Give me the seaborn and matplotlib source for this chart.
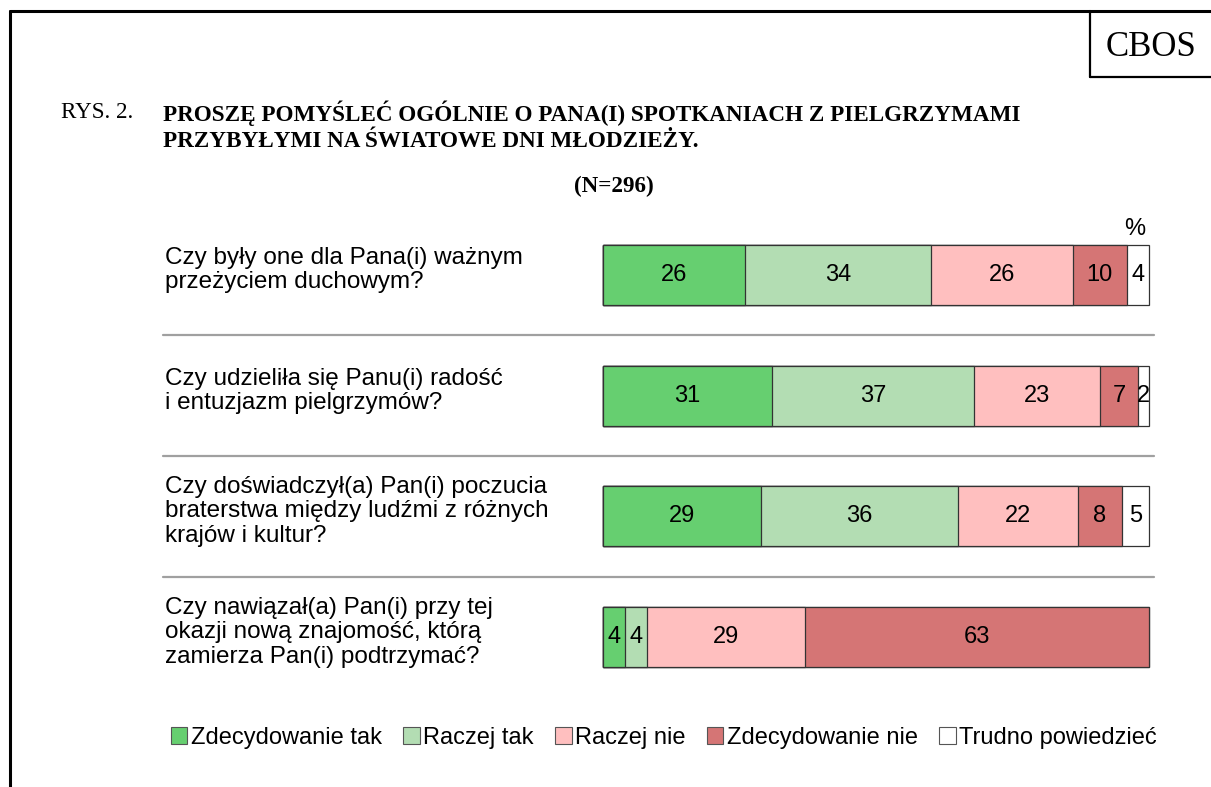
import numpy as np
import pandas as pd
import matplotlib
matplotlib.use("Agg")
import matplotlib.pyplot as plt
from matplotlib.patches import Patch
from matplotlib.lines import Line2D
import matplotlib.transforms as mtrans
import seaborn as sns

questions = [
    "Czy były one dla Pana(i) ważnym\nprzeżyciem duchowym?",
    "Czy udzieliła się Panu(i) radość\ni entuzjazm pielgrzymów?",
    "Czy doświadczył(a) Pan(i) poczucia\nbraterstwa między ludźmi z różnych\nkrajów i kultur?",
    "Czy nawiązał(a) Pan(i) przy tej\nokazji nową znajomość, którą\nzamierza Pan(i) podtrzymać?",
]
series_names = ["Zdecydowanie tak", "Raczej tak", "Raczej nie", "Zdecydowanie nie", "Trudno powiedzieć"]
zdecydowanie_tak = [26, 31, 29, 4]
raczej_tak = [34, 37, 36, 4]
raczej_nie = [26, 23, 22, 29]
zdecydowanie_nie = [10, 7, 8, 63]
trudno_powiedziec = [4, 2, 5, 0]
colors = ["#66CF70", "#B3DDB3", "#FFBFBF", "#D57575", "#FFFFFF"]

title_lines = "PROSZĘ POMYŚLEĆ OGÓLNIE O PANA(I) SPOTKANIACH Z PIELGRZYMAMI\nPRZYBYŁYMI NA ŚWIATOWE DNI MŁODZIEŻY."

sns.set_theme(style="white")
plt.rcParams["font.family"] = ["Liberation Sans", "DejaVu Sans"]
plt.rcParams["text.color"] = "black"

W, H = 1211, 787
fig = plt.figure(figsize=(W / 100, H / 100), dpi=100)
ax = fig.add_axes([603 / W, 1 - 697.3 / H, 546 / W, (697.3 - 214.7) / H])

series = [zdecydowanie_tak, raczej_tak, raczej_nie, zdecydowanie_nie, trudno_powiedziec]
vals = np.array(series, dtype=float)  # shape (5, 4)
cum = np.cumsum(vals, axis=0)
df = pd.DataFrame({"q": questions})
for k in range(len(series) - 1, -1, -1):
    df["v"] = cum[k]
    sns.barplot(data=df, x="v", y="q", order=questions, color=colors[k], width=0.5,
                edgecolor="#333333", linewidth=0.9, errorbar=None, orient="h",
                saturation=1, ax=ax)
for p in ax.patches:
    p.set_clip_on(False)

ax.set_xlim(0, 100)
ax.set_ylim(3.5, -0.5)
ax.set_axis_off()

# value labels
starts = cum - vals
for k in range(vals.shape[0]):
    for j in range(vals.shape[1]):
        v = vals[k, j]
        if v > 0:
            ax.text(starts[k, j] + v / 2, j, f"{int(v)}", ha="center", va="center",
                    fontsize=17, color="black")

# category labels and separators
bt = mtrans.blended_transform_factory(fig.transFigure, ax.transData)
for j, q in enumerate(questions):
    ax.text(165 / W, j - 0.04, q, transform=bt, ha="left", va="center", fontsize=17.5,
            linespacing=1.15, color="black")
for y in [0.5, 1.5, 2.5]:
    fig.add_artist(Line2D([163 / W, 1154 / W], [y, y], transform=bt, color="#A0A0A0", lw=1.6))

# percent sign
fig.text(1135 / W, 1 - 229 / H, "%", ha="center", va="center", fontsize=17)

# titles
serif = ["Liberation Serif", "DejaVu Serif"]
fig.text(61 / W, 1 - 112 / H, "RYS. 2.", ha="left", va="center", fontsize=16.7, family=serif)
fig.text(163 / W, 1 - 126.5 / H, title_lines, ha="left", va="center", fontsize=16.7,
         family=serif, fontweight="bold", linespacing=1.33)
fig.text(614 / W, 1 - 186 / H, "(N=296)", ha="center", va="center", fontsize=16.7,
         family=serif, fontweight="bold")

# frame and CBOS box
fig.add_artist(Line2D([10 / W, 1], [1 - 11 / H, 1 - 11 / H], transform=fig.transFigure, color="black", lw=2.2))
fig.add_artist(Line2D([10 / W, 10 / W], [0, 1 - 11 / H], transform=fig.transFigure, color="black", lw=2.2))
fig.add_artist(Line2D([1090 / W, 1090 / W], [1 - 77 / H, 1 - 11 / H], transform=fig.transFigure, color="black", lw=1.6))
fig.add_artist(Line2D([1090 / W, 1], [1 - 77 / H, 1 - 77 / H], transform=fig.transFigure, color="black", lw=1.6))
fig.text(1151 / W, 1 - 47 / H, "CBOS", ha="center", va="center", fontsize=25, family=serif)

# legend
handles = [Patch(facecolor=c, edgecolor="#555555", linewidth=0.8) for c in colors]
leg = fig.legend(handles, series_names, loc="center", bbox_to_anchor=(664 / W, 1 - 738 / H), ncol=5,
                 frameon=False, fontsize=17, handlelength=0.7, handleheight=0.7, handletextpad=0.15,
                 columnspacing=0.9, borderaxespad=0)
for t in leg.get_texts():
    t.set_color("black")

fig.savefig("out.png", dpi=100)
